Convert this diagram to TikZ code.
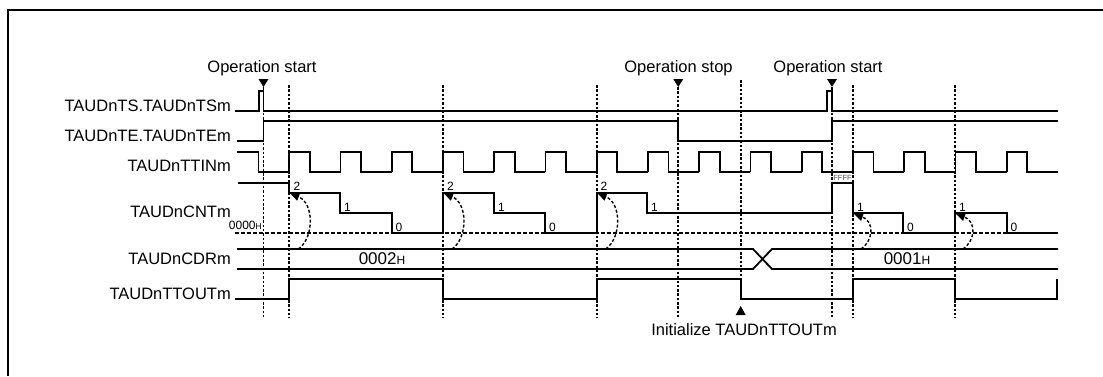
\documentclass[tikz,border=0pt]{standalone}
\usepackage{fontspec}
\setmainfont{Liberation Sans}
\usetikzlibrary{arrows.meta}

\begin{document}
\begin{tikzpicture}[
    x=1pt, y=-1pt, line join=miter,
    sig/.style    ={black, line width=1.8pt},
    tmark/.style  ={black, line width=1.7pt, dash pattern=on 2.5pt off 1.8pt},
    zeroln/.style ={black, line width=1.5pt, dash pattern=on 4pt off 2pt},
    reload/.style ={black, line width=1.4pt, dash pattern=on 3pt off 2pt, -{Triangle[length=9pt,width=8pt]}},
    sname/.style  ={font=\fontsize{16.5}{18}\selectfont, inner sep=0pt},
    cnum/.style   ={font=\fontsize{12}{13}\selectfont, inner sep=0pt, anchor=south west},
    val/.style    ={font=\fontsize{17}{18}\selectfont, inner sep=0pt}
]
\useasboundingbox (0,0) rectangle (1103,376);

% frame
\draw[line width=1.8pt] (8,376) -- (8,10) -- (1103,10);

% signal names
\node[sname, anchor=base east] (ts)    at (231,111) {TAUDnTS.TAUDnTSm};
\node[sname, anchor=base east] (te)    at (231,141) {TAUDnTE.TAUDnTEm};
\node[sname, anchor=base east] (ttin)  at (231,171) {TAUDnTTINm};
\node[sname, anchor=east]      (cnt)   at (231,212) {TAUDnCNTm};
\node[sname, anchor=east]      (cdr)   at (231,259) {TAUDnCDRm};
\node[sname, anchor=base east] (ttout) at (231,299) {TAUDnTTOUTm};

% timing marks
\foreach \t in {289.3,443,596.7,853,955}
  \draw[tmark] (\t,85) -- (\t,318);
\foreach \t in {263.5,678.3,832}
  \draw[tmark] (\t,87) -- (\t,318);
\draw[tmark] (740.7,80) -- (740.7,300);

% operation start / stop
\foreach \t in {263.5,678.3,832}
  \fill (\t-5,79) -- (\t+5,79) -- (\t,87) -- cycle;
\node[sname] (start1) at (262,68)   {Operation start};
\node[sname] (stop)   at (678.5,68) {Operation stop};
\node[sname] (start2) at (828,68)   {Operation start};

% TS and TE
\draw[sig] (235,111) -- (259,111) -- (259,91) -- (263.5,91) -- (263.5,111)
  -- (827,111) -- (827,91) -- (832,91) -- (832,111) -- (1058,111);
\draw[sig] (237,141) -- (263.5,141) -- (263.5,121) -- (678.3,121) -- (678.3,141)
  -- (832,141) -- (832,121) -- (1058,121);

% TTIN
\draw[sig] (237,152) -- (258.5,152) -- (258.5,172) -- (289.3,172);
\foreach \k in {0,...,14}
  \draw[sig] (289.3+51.24*\k,172) -- (289.3+51.24*\k,152) -- (309.8+51.24*\k,152)
    -- (309.8+51.24*\k,172) -- (340.5+51.24*\k,172);

% CNT
\draw[zeroln] (235,233) -- (1058,233);
\node[inner sep=0pt, anchor=south east] (zero) at (262,230)
  {\fontsize{12}{12}\selectfont 0000{\fontsize{8.5}{9}\selectfont H}};
\draw[sig] (238,182.7) -- (289.3,182.7) -- (289.3,192.7) -- (340,192.7) -- (340,213)
  -- (391.7,213) -- (391.7,233) -- (443,233) -- (443,192.7) -- (494,192.7)
  -- (494,213) -- (545,213) -- (545,233) -- (596.7,233) -- (596.7,192.7)
  -- (647.3,192.7) -- (647.3,213) -- (832,213) -- (832,182.7) -- (853,182.7)
  -- (853,213) -- (903.3,213) -- (903.3,233) -- (955,233) -- (955,213)
  -- (1006.7,213) -- (1006.7,233) -- (1058,233);
\node[font=\fontsize{7.5}{8}\selectfont, text=black!70, inner sep=0pt] (ffff) at (842.5,177.5) {FFFF};
\node[cnum] (c2a) at (293.5,191) {2};
\node[cnum] (c1a) at (344,211.5) {1};
\node[cnum] (c0a) at (395.5,231.5) {0};
\node[cnum] (c2b) at (447,191) {2};
\node[cnum] (c1b) at (498,211.5) {1};
\node[cnum] (c0b) at (549,231.5) {0};
\node[cnum] (c2c) at (600.5,191) {2};
\node[cnum] (c1c) at (651,211.5) {1};
\node[cnum] (c1d) at (857,211.5) {1};
\node[cnum] (c0d) at (907,231.5) {0};
\node[cnum] (c1e) at (959,211.5) {1};
\node[cnum] (c0e) at (1010.5,231.5) {0};

% reload from CDR
\foreach \t in {289.3,443,596.7}
  \draw[reload] (\t+9,249) .. controls (\t+25,238) and (\t+25,203) .. (\t+1,193.5);
\foreach \t in {853,955}
  \draw[reload] (\t+8,249) .. controls (\t+21,240) and (\t+21,221) .. (\t+1,214);

% CDR
\draw[sig] (237,249) -- (753,249) -- (772,269) -- (1058,269);
\draw[sig] (237,269) -- (753,269) -- (772,249) -- (1058,249);
\node[val] (v2) at (382,259) {0002{\fontsize{12}{12}\selectfont H}};
\node[val] (v1) at (907,259) {0001{\fontsize{12}{12}\selectfont H}};

% TTOUT
\draw[sig] (235,299) -- (289.3,299) -- (289.3,279) -- (443,279) -- (443,299)
  -- (596.7,299) -- (596.7,279) -- (740.7,279) -- (740.7,299) -- (853,299)
  -- (853,279) -- (955,279) -- (955,299) -- (1057,299) -- (1057,279);
\fill (735.7,315) -- (745.7,315) -- (740.7,306) -- cycle;
\node[sname] (init) at (744,330) {Initialize TAUDnTTOUTm};
\end{tikzpicture}
\end{document}
